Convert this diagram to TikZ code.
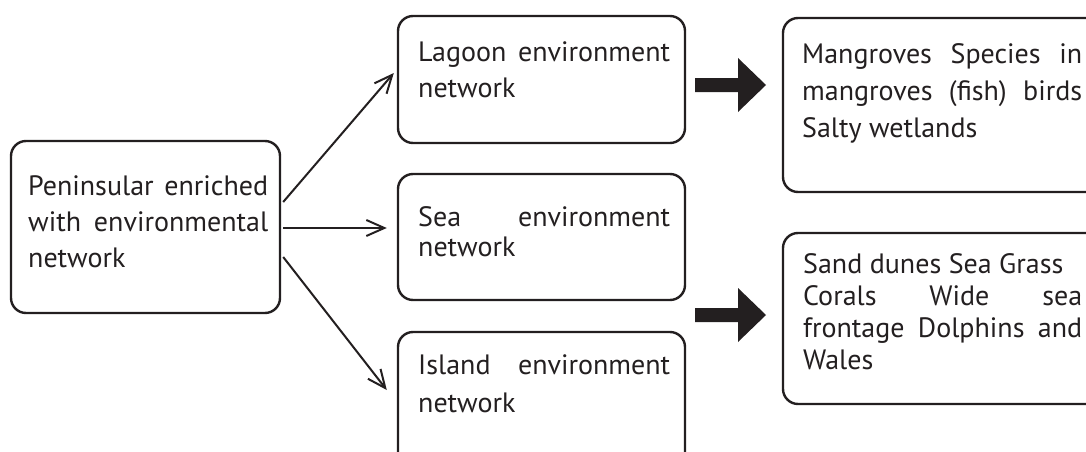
\documentclass[tikz,border=0pt]{standalone}
\usepackage{fontspec}
\setmainfont{PT Sans}
\usetikzlibrary{arrows.meta,calc}
\definecolor{ink}{HTML}{231F20}
\tikzset{
  box/.style={draw=ink, line width=2.4pt, rounded corners=15pt, inner sep=0pt},
  txt/.style={anchor=north west, inner sep=0pt, align=justify, text=ink},
  arr/.style={draw=ink, line width=2pt, -{Straight Barb[length=18pt,width=16pt,line width=2pt]}},
  blockarrow/.pic={\fill[ink] (0,-7) -- (43,-7) -- (43,-27) -- (71,0) -- (43,27) -- (43,7) -- (0,7) -- cycle;}
}
\begin{document}
\begin{tikzpicture}[x=1pt,y=-1pt]
\useasboundingbox (0,0) rectangle (1086,452);
\clip (0,0) rectangle (1086,452);

% boxes
\node[box, minimum width=269pt, minimum height=172pt] (left) at (145.5,227) {};
\node[box, minimum width=287pt, minimum height=127pt] (lagoon) at (541.5,79.5) {};
\node[box, minimum width=287pt, minimum height=126pt] (sea) at (541.5,237) {};
\node[box, minimum width=287pt, minimum height=138pt] (island) at (541.5,401) {};
\node[box, minimum width=327pt, minimum height=174pt] (mangroves) at (946.5,105) {};
\node[box, minimum width=327pt, minimum height=171pt] (sand) at (946.5,318.5) {};

% texts
\node[txt, text width=240pt, font=\fontsize{28}{36}\selectfont] (lefttxt) at (28,175)
  {Peninsular enriched\linebreak with environmental\linebreak network};
\node[txt, text width=252pt, font=\fontsize{28}{36}\selectfont] (lagoontxt) at (418,41)
  {Lagoon environment\linebreak network};
\node[txt, text width=252pt, font=\fontsize{28}{30}\selectfont] (seatxt) at (418,206)
  {Sea environment\linebreak network};
\node[txt, text width=252pt, font=\fontsize{28}{38}\selectfont] (islandtxt) at (418,354)
  {Island environment\linebreak network};
\node[txt, text width=280pt, font=\fontsize{28}{37}\selectfont] (mangrovestxt) at (802,43)
  {Mangroves Species in\linebreak mangroves (fish) birds\linebreak Salty wetlands};
\node[txt, text width=279pt, font=\fontsize{28}{32}\selectfont] (sandtxt) at (803,253)
  {Sand dunes Sea Grass\newline Corals Wide sea\linebreak frontage Dolphins and\linebreak Wales};

% connectors
\draw[arr] ($(left.east)+(2,-25)$) -- ($(lagoon.west)+(-3,-6.5)$);
\draw[arr] ($(left.east)+(2,1)$) -- ($(sea.west)+(-10,-9)$);
\draw[arr] ($(left.east)+(2,30)$) -- ($(island.west)+(-10,-11)$);

% block arrows
\coordinate (b1) at (695,85);
\coordinate (b2) at (695,315);
\pic at (b1) {blockarrow};
\pic at (b2) {blockarrow};
\end{tikzpicture}
\end{document}
